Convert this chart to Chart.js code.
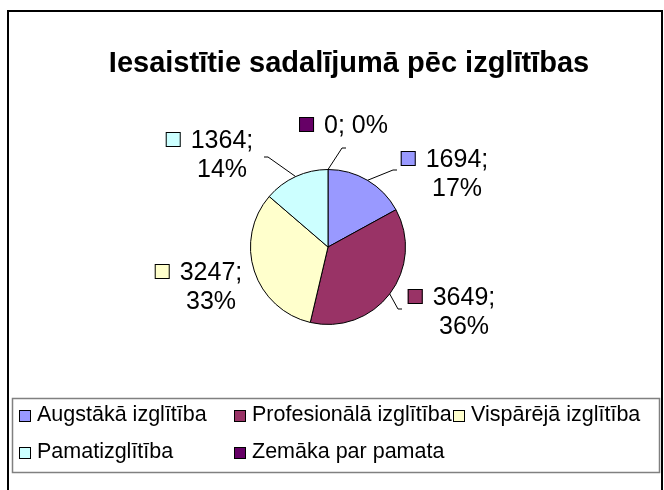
<!DOCTYPE html>
<html>
<head>
<meta charset="utf-8">
<script src="https://cdn.jsdelivr.net/npm/chart.js@4/dist/chart.umd.min.js"></script>
<style>
  html, body { margin: 0; padding: 0; background: #fff; }
  canvas { display: block; }
</style>
</head>
<body>
<canvas id="grafiks" width="664" height="490"></canvas>
<script>
// dati
const virsraksts = "Iesaistītie sadalījumā pēc izglītības";
const kategorijas = ["Augstākā izglītība", "Profesionālā izglītība", "Vispārējā izglītība", "Pamatizglītība", "Zemāka par pamata"];
const vertibas = [1694, 3649, 3247, 1364, 0];
const procenti = [17, 36, 33, 14, 0];
const krasas = ["#9999FF", "#993366", "#FFFFCC", "#CCFFFF", "#660066"];

// etiķešu novietojums (teksta bloka centrs pret pīrāga centru, px)
const etiketesNobide = [[129, -88], [136, 50], [-117, 25], [-106, -107], [28, -122]];
// atsaites gals pret etiķetes centru (null = bez atsaites)
const atsaitesGals = [[-64, 11], [-66, 12], null, [46, 17], [-14, 23]];

const FONTS = "'Liberation Sans', Arial, sans-serif";

// rāmis, virsraksts un leģenda
const zimejums = {
    id: 'zimejums',
    beforeDraw(chart) {
        const c = chart.ctx;
        c.save();
        c.fillStyle = '#fff';
        c.fillRect(0, 0, chart.width, chart.height);
        // ārējais rāmis
        c.strokeStyle = '#000';
        c.lineWidth = 2;
        c.strokeRect(8, 11, 654, 490);
        // virsraksts
        c.fillStyle = '#000';
        c.font = "bold 29px " + FONTS;
        c.textAlign = 'center';
        c.textBaseline = 'middle';
        c.fillText(virsraksts, 349, 64);
        // leģendas kaste
        c.strokeStyle = '#808080';
        c.lineWidth = 1.5;
        c.strokeRect(12.5, 398.5, 647, 74);
        // leģendas ieraksti
        const kolonnas = [19, 234, 453];
        const rindas = [421, 458];
        c.font = "21.5px " + FONTS;
        c.textAlign = 'left';
        c.textBaseline = 'alphabetic';
        kategorijas.forEach((k, i) => {
            const x = kolonnas[i % 3];
            const y = rindas[Math.floor(i / 3)];
            c.fillStyle = krasas[i];
            c.fillRect(x, y - 11, 12, 12);
            c.strokeStyle = '#000';
            c.lineWidth = 1;
            c.strokeRect(x + 0.5, y - 10.5, 11, 11);
            c.fillStyle = '#000';
            c.fillText(k, x + 18, y);
        });
        c.restore();
    }
};

// datu etiķetes ar atsaitēm
const etiketes = {
    id: 'etiketes',
    afterDatasetsDraw(chart) {
        const c = chart.ctx;
        const meta = chart.getDatasetMeta(0);
        c.save();
        c.font = "25px " + FONTS;
        c.textAlign = 'center';
        c.textBaseline = 'middle';
        meta.data.forEach((arc, i) => {
            const p = arc.getProps(['x', 'y', 'startAngle', 'endAngle', 'outerRadius'], true);
            const vid = (p.startAngle + p.endAngle) / 2;
            const ax = p.x + Math.cos(vid) * p.outerRadius;
            const ay = p.y + Math.sin(vid) * p.outerRadius;

            const viena = vertibas[i] + "; " + procenti[i] + "%";
            const rindas = c.measureText(viena).width < 75
                ? [viena]
                : [vertibas[i] + ";", procenti[i] + "%"];
            const cx = p.x + etiketesNobide[i][0];
            const cy = p.y + etiketesNobide[i][1];
            const augst = 29;
            const plat = Math.max(...rindas.map(r => c.measureText(r).width));

            // atsaite
            const g = atsaitesGals[i];
            if (g) {
                const gx = cx + g[0], gy = cy + g[1];
                c.strokeStyle = '#000';
                c.lineWidth = 1;
                c.beginPath();
                c.moveTo(ax, ay);
                c.lineTo(gx, gy);
                c.lineTo(gx + (gx < cx ? 4 : -4), gy);
                c.stroke();
            }

            // krāsas kvadrātiņš
            const kx = cx - plat / 2 - 25;
            c.fillStyle = krasas[i];
            c.fillRect(kx, cy - 8, 15, 15);
            c.strokeStyle = '#000';
            c.lineWidth = 1;
            c.strokeRect(kx + 0.5, cy - 7.5, 14, 14);

            c.fillStyle = '#000';
            rindas.forEach((r, j) => c.fillText(r, cx, cy + j * augst + 1));
        });
        c.restore();
    }
};

new Chart(document.getElementById('grafiks'), {
    type: 'pie',
    data: {
        labels: kategorijas,
        datasets: [{
            data: vertibas,
            backgroundColor: krasas,
            borderColor: '#000',
            borderWidth: 1
        }]
    },
    options: {
        responsive: false,
        animation: false,
        layout: { padding: { left: 250, right: 258, top: 169, bottom: 165 } },
        plugins: {
            legend: { display: false },
            title: { display: false },
            tooltip: { enabled: false }
        }
    },
    plugins: [zimejums, etiketes]
});
</script>
</body>
</html>
